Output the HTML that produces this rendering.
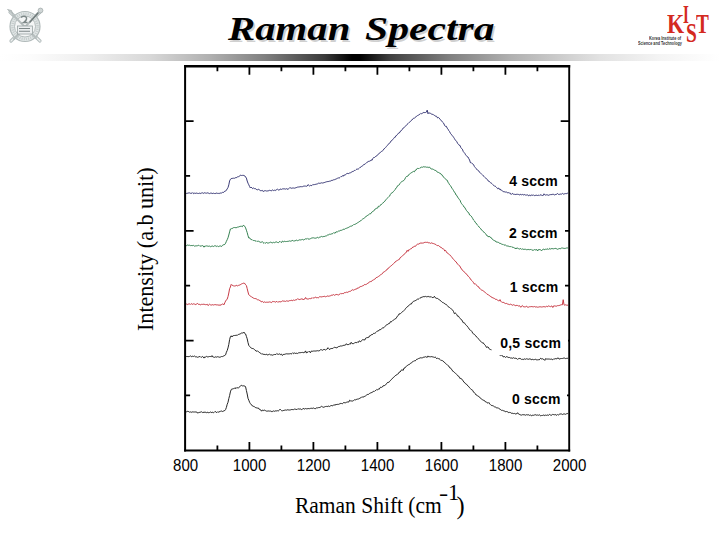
<!DOCTYPE html>
<html><head><meta charset="utf-8"><style>
html,body{margin:0;padding:0;background:#fff}
body{width:720px;height:540px;position:relative;overflow:hidden}
</style></head><body>
<svg width="60" height="60" viewBox="0 0 60 60" style="position:absolute;left:0;top:0">
<g stroke-linecap="round" fill="none">
<line x1="10" y1="12" x2="40" y2="41" stroke="#b3bcbc" stroke-width="3.2"/>
<line x1="40" y1="12" x2="11" y2="41" stroke="#b3bcbc" stroke-width="3.2"/>
<line x1="10" y1="12" x2="40" y2="41" stroke="#eef1f1" stroke-width="1.2"/>
<line x1="40" y1="12" x2="11" y2="41" stroke="#eef1f1" stroke-width="1.2"/>
</g>
<circle cx="25" cy="26.5" r="15" fill="#e4e9e9" stroke="#b0b9b9" stroke-width="1.2"/>
<circle cx="25" cy="26.5" r="12.6" fill="none" stroke="#c6cdcd" stroke-width="2.6" stroke-dasharray="1.2 1"/>
<circle cx="25" cy="26.5" r="10.5" fill="#f4f6f6" stroke="#a6afaf" stroke-width="0.8"/>
<line x1="13" y1="15" x2="36" y2="38" stroke="#b6bebe" stroke-width="2" stroke-linecap="round"/>
<line x1="38" y1="13" x2="14" y2="39" stroke="#b6bebe" stroke-width="2" stroke-linecap="round"/>
<line x1="38" y1="13" x2="30" y2="22" stroke="#6f7a7a" stroke-width="1.4" stroke-linecap="round"/>
<path d="M21 17.5 q3 -2.5 5.5 0 q0.5 3 -3 5 l4 0" stroke="#7d8888" stroke-width="1.4" fill="none"/>
<rect x="17.5" y="26" width="15" height="8" fill="#eceff0" stroke="#9aa4a4" stroke-width="0.8"/>
<path d="M19 28.5 h11 M19 31.3 h11" stroke="#7d8888" stroke-width="1.1"/>
<path d="M7.5 9.5 l4 1 l1 3.5 z" fill="#c4cbcb" stroke="#a3acac" stroke-width="0.7"/>
<circle cx="40.5" cy="10.5" r="2.4" fill="#d0d6d6" stroke="#a3acac" stroke-width="0.8"/>
</svg>
<div style="position:absolute;left:0;top:0;width:720px;height:60px;font-family:'Liberation Serif';font-weight:bold;font-style:italic;font-size:34px;line-height:40px;color:#000;text-shadow:1.5px 1.5px 0.3px #d0d0d0;white-space:nowrap">
<div style="position:absolute;left:228px;top:9px;transform:scaleX(1.2);transform-origin:0 0">Raman</div>
<div style="position:absolute;left:365px;top:9px;transform:scaleX(1.225);transform-origin:0 0">Spectra</div>
</div>
<div style="position:absolute;left:0;top:0;width:720px;height:60px;font-family:'Liberation Serif';font-weight:bold;color:#d42a1f;white-space:nowrap">
<div style="position:absolute;left:666.5px;top:9.5px;font-size:27.5px;line-height:27.5px;transform:scaleX(0.8);transform-origin:0 0">K</div>
<div style="position:absolute;left:683px;top:2px;font-size:25px;line-height:25px;transform:scaleX(0.6);transform-origin:0 0">I</div>
<div style="position:absolute;left:686px;top:19.5px;font-size:27px;line-height:27px;transform:scaleX(0.72);transform-origin:0 0">S</div>
<div style="position:absolute;left:696px;top:9.5px;font-size:27.5px;line-height:27.5px;transform:scaleX(0.7);transform-origin:0 0">T</div>
<div style="position:absolute;left:648.5px;top:36px;font-family:'Liberation Sans';font-weight:bold;color:#333;font-size:4.6px;line-height:5px;transform:scaleX(0.85);transform-origin:0 0">Korea Institute of</div>
<div style="position:absolute;left:638px;top:40.8px;font-family:'Liberation Sans';font-weight:bold;color:#333;font-size:4.6px;line-height:5px;transform:scaleX(0.82);transform-origin:0 0">Science and Technology</div>
</div>
<div style="position:absolute;left:0;top:54px;width:720px;height:7px;background:linear-gradient(90deg,#fff 0px,#fcfcfc 30px,#eeeeee 90px,#d8d8d8 150px,#b0b0b0 210px,#808080 265px,#3a3a3a 325px,#000 352px,#000 360px,#404040 390px,#808080 450px,#b0b0b0 510px,#d2d2d2 570px,#e2e2e2 600px,#f4f4f4 660px,#fff 720px)"></div>
<svg width="720" height="540" viewBox="0 0 720 540" style="position:absolute;left:0;top:0">
<g><polyline fill="none" stroke="#303070" stroke-width="0.95" stroke-linejoin="round" points="185.6,193.0 186.4,193.4 187.2,193.4 188.0,192.9 188.8,193.0 189.6,192.9 190.4,193.3 191.2,193.1 192.0,193.4 192.8,192.6 193.6,193.7 194.4,193.2 195.2,193.4 196.0,193.2 196.8,193.1 197.6,193.4 198.4,193.5 199.2,193.2 200.0,193.2 200.8,193.5 201.6,193.0 202.4,192.8 203.2,193.4 204.0,193.1 204.8,192.7 205.6,193.1 206.4,193.2 207.2,192.9 208.0,192.9 208.8,193.3 209.6,193.6 210.4,193.2 211.2,193.1 212.0,193.4 212.8,193.5 213.6,193.2 214.4,193.5 215.2,193.6 216.0,193.2 216.8,193.1 217.6,193.4 218.4,193.4 219.2,193.6 220.0,192.9 220.8,193.1 221.6,193.0 222.4,192.4 223.2,192.5 224.0,192.1 224.8,191.2 225.6,191.1 226.4,190.1 227.2,188.9 228.0,187.5 228.8,184.9 229.6,180.9 230.4,179.3 231.2,178.9 232.0,178.0 232.8,178.5 233.6,178.2 234.4,178.3 235.2,177.8 236.0,177.6 236.8,177.5 237.6,176.8 238.4,176.9 239.2,176.1 240.0,175.7 240.8,175.1 241.6,175.5 242.4,175.4 243.2,175.3 244.0,175.6 244.8,175.9 245.6,177.0 246.4,178.1 247.2,181.0 248.0,183.2 248.8,184.8 249.6,186.5 250.4,188.0 251.2,187.1 252.0,188.1 252.8,188.6 253.6,188.0 254.4,188.6 255.2,188.5 256.0,189.1 256.8,189.7 257.6,190.0 258.4,189.1 259.2,189.7 260.0,190.3 260.8,190.8 261.6,190.6 262.4,190.4 263.2,191.6 264.0,190.8 264.8,190.8 265.6,190.7 266.4,191.0 267.2,191.0 268.0,190.8 268.8,190.7 269.6,190.3 270.4,190.5 271.2,190.9 272.0,190.3 272.8,189.9 273.6,190.6 274.4,190.2 275.2,190.6 276.0,189.9 276.8,189.6 277.6,189.2 278.4,189.9 279.2,190.2 280.0,189.1 280.8,189.1 281.6,189.4 282.4,188.9 283.2,188.9 284.0,188.8 284.8,188.9 285.6,189.1 286.4,188.7 287.2,188.9 288.0,189.6 288.8,188.5 289.6,187.7 290.4,187.8 291.2,188.4 292.0,187.9 292.8,188.1 293.6,188.0 294.4,188.2 295.2,187.9 296.0,187.8 296.8,187.4 297.6,187.1 298.4,187.0 299.2,187.0 300.0,186.6 300.8,186.7 301.6,186.7 302.4,186.7 303.2,186.4 304.0,185.8 304.8,186.2 305.6,186.1 306.4,186.3 307.2,186.0 308.0,184.6 308.8,185.3 309.6,186.0 310.4,185.4 311.2,185.6 312.0,185.5 312.8,184.5 313.6,184.7 314.4,184.6 315.2,184.4 316.0,184.3 316.8,184.0 317.6,183.8 318.4,183.2 319.2,183.4 320.0,183.1 320.8,183.2 321.6,182.8 322.4,183.0 323.2,182.9 324.0,182.6 324.8,182.4 325.6,182.1 326.4,181.8 327.2,181.7 328.0,181.4 328.8,181.5 329.6,181.2 330.4,181.1 331.2,180.4 332.0,180.8 332.8,180.1 333.6,179.8 334.4,179.7 335.2,179.3 336.0,179.2 336.8,178.6 337.6,178.2 338.4,177.9 339.2,178.1 340.0,177.4 340.8,176.6 341.6,176.6 342.4,175.7 343.2,176.3 344.0,174.9 344.8,175.2 345.6,174.8 346.4,173.9 347.2,173.1 348.0,173.9 348.8,173.4 349.6,173.0 350.4,172.8 351.2,172.3 352.0,171.9 352.8,171.4 353.6,171.3 354.4,170.4 355.2,170.5 356.0,169.7 356.8,169.1 357.6,169.1 358.4,169.0 359.2,168.3 360.0,167.3 360.8,167.2 361.6,166.3 362.4,165.9 363.2,165.4 364.0,164.2 364.8,164.4 365.6,163.5 366.4,163.0 367.2,162.2 368.0,161.6 368.8,161.3 369.6,161.2 370.4,160.9 371.2,159.8 372.0,160.4 372.8,158.6 373.6,157.5 374.4,157.5 375.2,157.0 376.0,156.1 376.8,155.7 377.6,155.2 378.4,154.1 379.2,153.2 380.0,152.8 380.8,152.1 381.6,151.3 382.4,150.9 383.2,150.3 384.0,148.8 384.8,148.3 385.6,147.5 386.4,146.5 387.2,145.7 388.0,144.4 388.8,143.8 389.6,143.3 390.4,142.1 391.2,140.8 392.0,140.3 392.8,139.6 393.6,138.5 394.4,137.4 395.2,137.3 396.0,135.6 396.8,135.3 397.6,134.4 398.4,133.2 399.2,133.1 400.0,132.0 400.8,130.7 401.6,130.4 402.4,129.3 403.2,128.0 404.0,127.5 404.8,126.9 405.6,126.2 406.4,125.2 407.2,124.3 408.0,123.6 408.8,122.7 409.6,122.3 410.4,121.3 411.2,120.6 412.0,120.0 412.8,118.8 413.6,118.3 414.4,118.3 415.2,117.3 416.0,116.6 416.8,116.2 417.6,115.5 418.4,115.2 419.2,114.5 420.0,114.3 420.8,113.4 421.6,113.9 422.4,113.1 423.2,112.5 424.0,112.7 424.8,112.5 425.6,112.5 426.4,112.1 427.2,110.1 428.0,113.8 428.8,112.5 429.6,113.2 430.4,113.3 431.2,113.8 432.0,114.5 432.8,114.2 433.6,115.0 434.4,115.3 435.2,116.2 436.0,115.9 436.8,116.6 437.6,118.0 438.4,117.5 439.2,118.1 440.0,119.2 440.8,120.0 441.6,121.1 442.4,121.9 443.2,122.6 444.0,124.0 444.8,125.8 445.6,126.4 446.4,126.3 447.2,128.2 448.0,129.1 448.8,130.7 449.6,131.6 450.4,133.3 451.2,134.2 452.0,135.3 452.8,136.2 453.6,137.3 454.4,138.5 455.2,139.9 456.0,140.8 456.8,141.7 457.6,143.4 458.4,144.2 459.2,145.3 460.0,145.4 460.8,147.5 461.6,148.6 462.4,149.2 463.2,151.4 464.0,152.4 464.8,153.3 465.6,154.8 466.4,155.7 467.2,156.7 468.0,157.0 468.8,158.7 469.6,160.0 470.4,162.7 471.2,162.6 472.0,163.6 472.8,163.9 473.6,164.7 474.4,166.5 475.2,167.4 476.0,168.6 476.8,169.2 477.6,170.2 478.4,170.5 479.2,171.9 480.0,172.4 480.8,173.4 481.6,174.2 482.4,174.8 483.2,175.7 484.0,176.4 484.8,177.4 485.6,178.1 486.4,178.6 487.2,179.3 488.0,180.8 488.8,181.0 489.6,182.0 490.4,182.6 491.2,183.0 492.0,183.7 492.8,184.6 493.6,185.3 494.4,186.1 495.2,186.1 496.0,186.9 496.8,187.7 497.6,188.7 498.4,188.0 499.2,189.3 500.0,188.8 500.8,190.2 501.6,190.3 502.4,190.9 503.2,191.6 504.0,191.6 504.8,191.9 505.6,192.1 506.4,192.0 507.2,192.7 508.0,192.7 508.8,192.7 509.6,193.1 510.4,193.2 511.2,194.5 512.0,193.6 512.8,193.6 513.6,194.3 514.4,194.3 515.2,194.5 516.0,194.4 516.8,194.3 517.6,194.3 518.4,194.4 519.2,194.9 520.0,194.7 520.8,194.3 521.6,194.8 522.4,194.4 523.2,195.0 524.0,194.6 524.8,194.6 525.6,195.1 526.4,195.1 527.2,194.7 528.0,195.4 528.8,195.9 529.6,194.8 530.4,195.8 531.2,195.1 532.0,195.2 532.8,195.3 533.6,194.9 534.4,195.7 535.2,195.5 536.0,195.1 536.8,195.3 537.6,195.5 538.4,195.2 539.2,195.6 540.0,194.7 540.8,195.1 541.6,195.2 542.4,195.5 543.2,195.5 544.0,193.8 544.8,194.8 545.6,195.1 546.4,194.8 547.2,194.8 548.0,195.1 548.8,195.3 549.6,194.8 550.4,194.6 551.2,194.8 552.0,194.0 552.8,194.5 553.6,194.2 554.4,195.1 555.2,194.6 556.0,194.4 556.8,194.2 557.6,193.5 558.4,194.4 559.2,194.6 560.0,193.8 560.8,194.2 561.6,194.1 562.4,193.4 563.2,194.1 564.0,194.1 564.8,193.7 565.6,193.6 566.4,193.8 567.2,193.0 568.0,193.4"/><polyline fill="none" stroke="#2a7a48" stroke-width="0.95" stroke-linejoin="round" points="185.6,244.9 186.4,245.6 187.2,245.2 188.0,244.8 188.8,245.5 189.6,245.2 190.4,245.6 191.2,245.5 192.0,245.6 192.8,245.6 193.6,245.4 194.4,246.1 195.2,246.0 196.0,245.7 196.8,245.9 197.6,245.7 198.4,245.3 199.2,245.5 200.0,246.4 200.8,245.8 201.6,245.9 202.4,245.6 203.2,245.9 204.0,247.2 204.8,246.0 205.6,246.1 206.4,245.9 207.2,246.0 208.0,246.2 208.8,246.3 209.6,246.1 210.4,246.7 211.2,246.3 212.0,246.3 212.8,246.0 213.6,246.5 214.4,245.9 215.2,245.8 216.0,246.0 216.8,246.5 217.6,245.9 218.4,246.7 219.2,246.3 220.0,245.8 220.8,246.1 221.6,246.5 222.4,245.4 223.2,244.8 224.0,244.8 224.8,244.4 225.6,243.2 226.4,241.3 227.2,239.7 228.0,237.8 228.8,235.0 229.6,231.9 230.4,229.0 231.2,229.0 232.0,228.2 232.8,228.3 233.6,227.6 234.4,227.5 235.2,227.8 236.0,227.3 236.8,227.7 237.6,227.1 238.4,227.0 239.2,226.7 240.0,226.4 240.8,226.3 241.6,226.3 242.4,226.7 243.2,225.3 244.0,225.7 244.8,226.3 245.6,227.9 246.4,230.2 247.2,232.6 248.0,235.7 248.8,238.0 249.6,237.8 250.4,239.1 251.2,239.6 252.0,239.5 252.8,240.3 253.6,240.5 254.4,240.5 255.2,241.2 256.0,240.6 256.8,241.4 257.6,241.3 258.4,241.2 259.2,241.7 260.0,241.9 260.8,242.5 261.6,242.1 262.4,241.6 263.2,242.7 264.0,243.4 264.8,242.6 265.6,243.3 266.4,242.4 267.2,243.0 268.0,242.9 268.8,243.0 269.6,242.6 270.4,242.2 271.2,242.3 272.0,243.1 272.8,242.7 273.6,242.3 274.4,242.7 275.2,242.2 276.0,242.1 276.8,241.9 277.6,242.5 278.4,242.7 279.2,241.8 280.0,241.4 280.8,242.2 281.6,242.5 282.4,241.0 283.2,241.7 284.0,241.8 284.8,241.1 285.6,241.6 286.4,241.5 287.2,241.5 288.0,241.1 288.8,241.3 289.6,240.9 290.4,241.2 291.2,241.0 292.0,240.7 292.8,240.3 293.6,241.2 294.4,240.9 295.2,240.8 296.0,240.2 296.8,240.2 297.6,240.7 298.4,240.4 299.2,239.8 300.0,240.0 300.8,239.9 301.6,239.7 302.4,239.4 303.2,240.0 304.0,239.7 304.8,239.3 305.6,238.8 306.4,239.0 307.2,238.4 308.0,239.3 308.8,238.8 309.6,239.1 310.4,238.7 311.2,238.4 312.0,237.6 312.8,238.0 313.6,237.8 314.4,238.1 315.2,238.1 316.0,238.3 316.8,237.7 317.6,237.2 318.4,238.1 319.2,237.4 320.0,237.0 320.8,236.9 321.6,236.4 322.4,236.8 323.2,236.5 324.0,236.7 324.8,236.3 325.6,236.0 326.4,235.9 327.2,235.2 328.0,234.9 328.8,234.8 329.6,234.2 330.4,234.3 331.2,233.9 332.0,234.0 332.8,233.5 333.6,232.7 334.4,233.0 335.2,233.1 336.0,231.8 336.8,231.9 337.6,231.8 338.4,231.1 339.2,231.0 340.0,230.9 340.8,230.2 341.6,230.3 342.4,230.1 343.2,229.2 344.0,229.3 344.8,229.2 345.6,228.5 346.4,228.3 347.2,228.1 348.0,227.4 348.8,227.4 349.6,226.9 350.4,226.1 351.2,226.2 352.0,225.9 352.8,225.4 353.6,224.6 354.4,224.5 355.2,224.3 356.0,223.6 356.8,223.4 357.6,222.9 358.4,222.1 359.2,221.8 360.0,221.0 360.8,220.8 361.6,219.9 362.4,219.2 363.2,218.8 364.0,218.2 364.8,217.7 365.6,217.1 366.4,216.0 367.2,215.6 368.0,215.2 368.8,214.6 369.6,213.9 370.4,214.0 371.2,212.9 372.0,211.9 372.8,211.5 373.6,211.1 374.4,210.1 375.2,208.9 376.0,208.8 376.8,208.1 377.6,208.1 378.4,206.2 379.2,206.6 380.0,205.4 380.8,205.0 381.6,204.0 382.4,203.4 383.2,202.9 384.0,201.8 384.8,201.3 385.6,200.1 386.4,199.2 387.2,198.4 388.0,197.4 388.8,196.6 389.6,196.1 390.4,194.4 391.2,193.3 392.0,192.8 392.8,192.4 393.6,191.3 394.4,190.5 395.2,189.5 396.0,188.0 396.8,187.4 397.6,185.7 398.4,185.4 399.2,184.9 400.0,183.4 400.8,182.4 401.6,181.7 402.4,181.3 403.2,180.8 404.0,180.4 404.8,179.2 405.6,177.5 406.4,176.5 407.2,176.4 408.0,176.0 408.8,174.5 409.6,174.1 410.4,173.4 411.2,172.9 412.0,172.2 412.8,171.9 413.6,171.4 414.4,171.8 415.2,170.3 416.0,170.2 416.8,168.8 417.6,168.4 418.4,168.5 419.2,168.5 420.0,167.7 420.8,167.7 421.6,167.1 422.4,167.3 423.2,166.7 424.0,167.0 424.8,166.9 425.6,166.9 426.4,167.2 427.2,167.3 428.0,166.9 428.8,167.6 429.6,167.1 430.4,168.2 431.2,169.1 432.0,168.8 432.8,169.2 433.6,169.5 434.4,170.1 435.2,170.2 436.0,171.0 436.8,171.2 437.6,172.4 438.4,172.4 439.2,173.0 440.0,173.1 440.8,173.7 441.6,175.0 442.4,175.2 443.2,176.8 444.0,177.3 444.8,178.2 445.6,179.3 446.4,179.8 447.2,180.2 448.0,182.2 448.8,183.4 449.6,184.8 450.4,185.5 451.2,186.9 452.0,188.3 452.8,189.4 453.6,190.7 454.4,192.1 455.2,193.0 456.0,195.0 456.8,195.5 457.6,197.1 458.4,198.2 459.2,199.3 460.0,200.2 460.8,202.3 461.6,203.7 462.4,204.6 463.2,205.5 464.0,207.1 464.8,207.5 465.6,209.1 466.4,210.4 467.2,211.5 468.0,212.1 468.8,213.0 469.6,215.0 470.4,215.4 471.2,216.1 472.0,217.3 472.8,218.7 473.6,220.1 474.4,220.8 475.2,222.3 476.0,223.0 476.8,224.2 477.6,225.3 478.4,226.0 479.2,227.2 480.0,227.9 480.8,228.8 481.6,230.1 482.4,230.5 483.2,231.6 484.0,232.1 484.8,233.1 485.6,233.7 486.4,234.9 487.2,236.0 488.0,236.0 488.8,237.1 489.6,236.3 490.4,237.5 491.2,237.6 492.0,239.0 492.8,239.6 493.6,240.2 494.4,240.6 495.2,240.7 496.0,242.0 496.8,242.0 497.6,242.2 498.4,242.3 499.2,243.2 500.0,243.2 500.8,243.6 501.6,244.1 502.4,244.4 503.2,244.4 504.0,245.3 504.8,244.9 505.6,245.1 506.4,245.8 507.2,245.9 508.0,246.2 508.8,246.2 509.6,246.6 510.4,246.6 511.2,246.5 512.0,247.4 512.8,247.1 513.6,247.5 514.4,248.0 515.2,248.0 516.0,249.0 516.8,247.9 517.6,248.2 518.4,248.6 519.2,249.1 520.0,248.8 520.8,248.5 521.6,249.4 522.4,248.9 523.2,249.2 524.0,249.6 524.8,249.2 525.6,249.3 526.4,249.7 527.2,249.5 528.0,249.8 528.8,249.4 529.6,249.7 530.4,249.5 531.2,249.4 532.0,250.4 532.8,250.0 533.6,250.2 534.4,249.6 535.2,249.9 536.0,249.9 536.8,249.5 537.6,251.0 538.4,249.6 539.2,249.7 540.0,249.3 540.8,250.0 541.6,250.8 542.4,249.7 543.2,249.2 544.0,249.3 544.8,249.7 545.6,249.2 546.4,249.3 547.2,249.2 548.0,248.7 548.8,249.5 549.6,248.4 550.4,249.0 551.2,248.8 552.0,248.3 552.8,248.8 553.6,248.8 554.4,248.6 555.2,248.3 556.0,248.7 556.8,248.8 557.6,249.3 558.4,248.9 559.2,248.6 560.0,248.5 560.8,248.7 561.6,248.0 562.4,248.0 563.2,248.3 564.0,248.2 564.8,248.5 565.6,248.3 566.4,248.0 567.2,248.0 568.0,247.8"/><polyline fill="none" stroke="#c4303c" stroke-width="0.95" stroke-linejoin="round" points="185.6,304.0 186.4,304.0 187.2,304.7 188.0,303.9 188.8,304.1 189.6,303.9 190.4,304.4 191.2,303.6 192.0,304.2 192.8,304.3 193.6,303.8 194.4,304.0 195.2,304.6 196.0,304.2 196.8,304.0 197.6,303.4 198.4,304.4 199.2,304.3 200.0,304.5 200.8,304.9 201.6,304.3 202.4,304.4 203.2,304.2 204.0,304.4 204.8,304.4 205.6,304.7 206.4,304.6 207.2,304.2 208.0,305.6 208.8,304.9 209.6,304.2 210.4,304.8 211.2,305.1 212.0,304.8 212.8,304.7 213.6,305.0 214.4,304.7 215.2,304.7 216.0,304.6 216.8,305.0 217.6,304.9 218.4,305.2 219.2,304.6 220.0,305.7 220.8,304.5 221.6,304.6 222.4,304.0 223.2,304.2 224.0,304.8 224.8,302.7 225.6,301.1 226.4,299.9 227.2,299.1 228.0,296.6 228.8,293.0 229.6,288.7 230.4,287.0 231.2,284.4 232.0,285.3 232.8,285.4 233.6,285.9 234.4,286.0 235.2,285.9 236.0,285.7 236.8,285.3 237.6,285.9 238.4,285.4 239.2,285.2 240.0,284.9 240.8,284.4 241.6,283.9 242.4,283.6 243.2,283.1 244.0,283.4 244.8,283.4 245.6,284.8 246.4,285.5 247.2,288.7 248.0,292.0 248.8,294.8 249.6,295.5 250.4,296.1 251.2,296.4 252.0,297.5 252.8,297.5 253.6,298.2 254.4,298.5 255.2,298.5 256.0,298.8 256.8,299.1 257.6,299.8 258.4,299.8 259.2,300.2 260.0,300.8 260.8,301.0 261.6,302.0 262.4,301.4 263.2,302.3 264.0,302.4 264.8,301.7 265.6,302.4 266.4,302.2 267.2,302.4 268.0,301.8 268.8,302.3 269.6,301.9 270.4,302.1 271.2,302.6 272.0,302.1 272.8,301.4 273.6,301.6 274.4,301.6 275.2,302.3 276.0,301.7 276.8,301.4 277.6,302.2 278.4,301.9 279.2,301.8 280.0,301.4 280.8,302.0 281.6,301.5 282.4,300.9 283.2,301.1 284.0,301.1 284.8,301.2 285.6,301.4 286.4,300.9 287.2,300.8 288.0,301.6 288.8,300.9 289.6,300.6 290.4,300.6 291.2,300.2 292.0,300.6 292.8,300.6 293.6,300.0 294.4,300.4 295.2,299.9 296.0,300.0 296.8,299.6 297.6,298.7 298.4,299.2 299.2,299.6 300.0,299.3 300.8,299.2 301.6,298.9 302.4,298.8 303.2,300.0 304.0,299.1 304.8,299.0 305.6,297.5 306.4,298.8 307.2,299.2 308.0,298.6 308.8,299.1 309.6,298.5 310.4,298.7 311.2,298.0 312.0,298.5 312.8,297.7 313.6,298.0 314.4,297.8 315.2,297.2 316.0,297.3 316.8,297.9 317.6,297.6 318.4,297.8 319.2,297.3 320.0,296.3 320.8,297.2 321.6,296.8 322.4,296.7 323.2,296.6 324.0,296.4 324.8,296.3 325.6,296.8 326.4,296.5 327.2,296.0 328.0,296.0 328.8,296.3 329.6,296.0 330.4,295.8 331.2,295.2 332.0,295.4 332.8,295.0 333.6,294.6 334.4,295.3 335.2,294.8 336.0,294.7 336.8,294.4 337.6,294.7 338.4,295.0 339.2,294.3 340.0,294.3 340.8,293.4 341.6,293.7 342.4,293.5 343.2,293.7 344.0,293.0 344.8,292.5 345.6,292.6 346.4,292.2 347.2,292.5 348.0,292.0 348.8,291.7 349.6,291.4 350.4,291.3 351.2,290.6 352.0,290.2 352.8,289.6 353.6,290.2 354.4,289.7 355.2,289.4 356.0,288.9 356.8,289.0 357.6,287.9 358.4,288.2 359.2,287.2 360.0,287.0 360.8,286.4 361.6,286.4 362.4,285.9 363.2,285.7 364.0,285.0 364.8,284.4 365.6,284.6 366.4,284.3 367.2,283.7 368.0,283.1 368.8,282.8 369.6,281.7 370.4,281.6 371.2,281.6 372.0,280.9 372.8,280.0 373.6,280.0 374.4,279.2 375.2,278.9 376.0,277.7 376.8,277.4 377.6,277.1 378.4,276.5 379.2,276.0 380.0,275.3 380.8,274.6 381.6,274.2 382.4,273.7 383.2,272.3 384.0,272.0 384.8,271.4 385.6,270.8 386.4,270.4 387.2,269.0 388.0,268.9 388.8,267.5 389.6,267.1 390.4,266.4 391.2,265.8 392.0,265.0 392.8,264.3 393.6,263.6 394.4,263.0 395.2,261.8 396.0,261.2 396.8,260.8 397.6,260.3 398.4,259.8 399.2,259.6 400.0,258.0 400.8,257.1 401.6,256.6 402.4,256.1 403.2,255.2 404.0,254.2 404.8,253.7 405.6,253.1 406.4,252.0 407.2,250.3 408.0,251.4 408.8,249.7 409.6,249.7 410.4,249.0 411.2,248.8 412.0,248.0 412.8,247.0 413.6,247.1 414.4,246.1 415.2,246.3 416.0,245.8 416.8,244.8 417.6,243.9 418.4,244.2 419.2,243.5 420.0,243.8 420.8,242.6 421.6,243.2 422.4,243.1 423.2,243.0 424.0,242.8 424.8,242.3 425.6,242.3 426.4,242.4 427.2,242.3 428.0,242.3 428.8,243.0 429.6,242.8 430.4,243.4 431.2,242.8 432.0,243.2 432.8,243.4 433.6,243.6 434.4,243.9 435.2,244.3 436.0,244.5 436.8,245.5 437.6,245.6 438.4,245.5 439.2,246.0 440.0,246.9 440.8,247.4 441.6,247.6 442.4,248.7 443.2,248.6 444.0,249.6 444.8,251.0 445.6,250.4 446.4,251.9 447.2,253.0 448.0,253.5 448.8,254.1 449.6,254.8 450.4,255.3 451.2,256.4 452.0,257.7 452.8,258.3 453.6,259.4 454.4,260.3 455.2,261.3 456.0,261.7 456.8,263.0 457.6,264.0 458.4,264.9 459.2,265.7 460.0,266.2 460.8,268.0 461.6,269.0 462.4,270.3 463.2,270.7 464.0,271.9 464.8,272.5 465.6,273.1 466.4,274.3 467.2,274.7 468.0,276.1 468.8,276.9 469.6,277.5 470.4,279.1 471.2,280.0 472.0,280.7 472.8,281.7 473.6,282.8 474.4,284.1 475.2,283.6 476.0,284.5 476.8,285.7 477.6,286.3 478.4,286.5 479.2,288.1 480.0,288.4 480.8,289.5 481.6,290.1 482.4,290.2 483.2,291.0 484.0,291.4 484.8,292.0 485.6,292.8 486.4,293.6 487.2,294.4 488.0,294.3 488.8,295.4 489.6,295.7 490.4,296.2 491.2,297.1 492.0,297.1 492.8,298.1 493.6,298.1 494.4,298.4 495.2,299.3 496.0,299.1 496.8,299.6 497.6,300.2 498.4,300.7 499.2,300.9 500.0,299.6 500.8,301.3 501.6,302.1 502.4,302.4 503.2,302.2 504.0,302.9 504.8,303.1 505.6,303.6 506.4,303.3 507.2,304.1 508.0,303.8 508.8,304.5 509.6,304.6 510.4,304.2 511.2,304.5 512.0,304.9 512.8,305.3 513.6,304.7 514.4,305.1 515.2,305.6 516.0,305.7 516.8,305.3 517.6,305.5 518.4,306.0 519.2,305.7 520.0,306.1 520.8,307.3 521.6,306.2 522.4,305.5 523.2,306.7 524.0,306.8 524.8,306.9 525.6,306.8 526.4,306.1 527.2,307.0 528.0,307.4 528.8,307.0 529.6,306.7 530.4,306.7 531.2,306.7 532.0,306.3 532.8,306.9 533.6,306.8 534.4,306.5 535.2,307.0 536.0,306.9 536.8,306.9 537.6,307.2 538.4,307.1 539.2,306.8 540.0,306.9 540.8,306.8 541.6,307.0 542.4,306.9 543.2,306.8 544.0,306.4 544.8,306.9 545.6,306.9 546.4,306.3 547.2,306.7 548.0,306.4 548.8,305.8 549.6,306.4 550.4,306.7 551.2,306.1 552.0,306.1 552.8,307.5 553.6,305.9 554.4,305.9 555.2,306.0 556.0,306.2 556.8,306.1 557.6,305.6 558.4,305.6 559.2,305.5 560.0,305.2 560.8,304.9 561.6,304.7 562.4,304.8 563.2,299.7 564.0,304.8 564.8,305.2 565.6,304.8 566.4,305.1 567.2,305.2 568.0,305.2"/><polyline fill="none" stroke="#1a1a1a" stroke-width="0.95" stroke-linejoin="round" points="185.6,356.5 186.4,356.5 187.2,356.6 188.0,356.4 188.8,356.7 189.6,356.4 190.4,355.9 191.2,356.6 192.0,356.6 192.8,356.1 193.6,356.5 194.4,356.0 195.2,356.6 196.0,357.2 196.8,356.7 197.6,357.3 198.4,357.0 199.2,356.7 200.0,356.4 200.8,357.2 201.6,357.2 202.4,356.5 203.2,356.9 204.0,358.1 204.8,356.8 205.6,357.1 206.4,356.4 207.2,356.7 208.0,357.2 208.8,356.6 209.6,356.5 210.4,356.5 211.2,356.8 212.0,355.6 212.8,356.9 213.6,357.1 214.4,357.4 215.2,356.7 216.0,357.3 216.8,357.0 217.6,356.7 218.4,356.9 219.2,357.2 220.0,357.2 220.8,356.9 221.6,356.5 222.4,356.6 223.2,356.2 224.0,355.8 224.8,355.4 225.6,354.8 226.4,352.2 227.2,350.5 228.0,347.9 228.8,344.4 229.6,339.7 230.4,336.7 231.2,335.8 232.0,337.0 232.8,335.8 233.6,335.6 234.4,335.5 235.2,335.4 236.0,335.4 236.8,335.2 237.6,335.2 238.4,334.4 239.2,334.4 240.0,333.7 240.8,333.7 241.6,333.0 242.4,333.0 243.2,333.0 244.0,332.1 244.8,333.6 245.6,334.0 246.4,336.4 247.2,338.8 248.0,342.6 248.8,345.4 249.6,346.4 250.4,347.4 251.2,348.0 252.0,348.4 252.8,348.6 253.6,348.8 254.4,349.5 255.2,350.1 256.0,351.2 256.8,351.1 257.6,350.9 258.4,351.7 259.2,352.3 260.0,352.9 260.8,353.3 261.6,354.1 262.4,353.9 263.2,354.1 264.0,354.8 264.8,354.3 265.6,354.6 266.4,354.1 267.2,355.0 268.0,354.9 268.8,354.5 269.6,354.2 270.4,354.8 271.2,354.8 272.0,355.0 272.8,355.2 273.6,354.7 274.4,354.5 275.2,354.5 276.0,354.5 276.8,353.5 277.6,354.2 278.4,354.4 279.2,353.9 280.0,354.0 280.8,354.7 281.6,354.1 282.4,355.5 283.2,354.6 284.0,354.2 284.8,354.4 285.6,354.0 286.4,353.8 287.2,353.9 288.0,353.9 288.8,353.9 289.6,353.8 290.4,353.6 291.2,354.0 292.0,353.5 292.8,352.7 293.6,353.7 294.4,353.0 295.2,353.3 296.0,353.6 296.8,353.1 297.6,353.5 298.4,352.9 299.2,352.7 300.0,352.8 300.8,352.6 301.6,352.5 302.4,352.4 303.2,352.7 304.0,352.5 304.8,352.2 305.6,350.9 306.4,353.1 307.2,352.0 308.0,352.3 308.8,351.5 309.6,351.5 310.4,352.8 311.2,351.2 312.0,351.1 312.8,351.3 313.6,351.0 314.4,351.0 315.2,351.0 316.0,351.1 316.8,350.8 317.6,350.7 318.4,350.9 319.2,350.8 320.0,350.2 320.8,349.6 321.6,349.8 322.4,350.3 323.2,349.7 324.0,349.5 324.8,349.5 325.6,350.0 326.4,349.4 327.2,349.1 328.0,347.7 328.8,348.6 329.6,349.7 330.4,348.7 331.2,348.6 332.0,348.3 332.8,348.5 333.6,347.7 334.4,347.3 335.2,347.5 336.0,347.6 336.8,348.0 337.6,347.0 338.4,346.6 339.2,346.5 340.0,346.2 340.8,345.9 341.6,346.0 342.4,345.8 343.2,345.3 344.0,345.6 344.8,345.1 345.6,345.0 346.4,343.7 347.2,344.7 348.0,344.5 348.8,344.5 349.6,343.9 350.4,344.1 351.2,342.3 352.0,343.6 352.8,343.6 353.6,343.7 354.4,342.9 355.2,342.5 356.0,342.6 356.8,342.7 357.6,341.9 358.4,342.4 359.2,340.8 360.0,341.5 360.8,341.7 361.6,340.6 362.4,339.7 363.2,339.9 364.0,339.5 364.8,340.1 365.6,338.2 366.4,337.8 367.2,337.8 368.0,337.1 368.8,337.4 369.6,335.8 370.4,335.7 371.2,334.7 372.0,334.9 372.8,334.3 373.6,333.3 374.4,333.4 375.2,333.1 376.0,332.4 376.8,331.4 377.6,331.1 378.4,331.0 379.2,329.9 380.0,329.6 380.8,329.6 381.6,328.6 382.4,328.0 383.2,327.9 384.0,327.6 384.8,326.7 385.6,325.6 386.4,325.0 387.2,324.8 388.0,323.8 388.8,323.7 389.6,323.4 390.4,321.7 391.2,321.8 392.0,321.4 392.8,320.4 393.6,320.0 394.4,319.4 395.2,318.8 396.0,318.6 396.8,317.1 397.6,316.0 398.4,315.2 399.2,313.7 400.0,314.2 400.8,313.3 401.6,312.5 402.4,311.7 403.2,311.4 404.0,310.5 404.8,309.7 405.6,308.4 406.4,307.8 407.2,306.8 408.0,306.2 408.8,305.7 409.6,304.6 410.4,304.1 411.2,304.2 412.0,302.9 412.8,301.8 413.6,301.3 414.4,301.0 415.2,300.8 416.0,300.0 416.8,299.8 417.6,299.1 418.4,299.2 419.2,298.5 420.0,297.7 420.8,298.1 421.6,297.1 422.4,297.0 423.2,296.7 424.0,296.6 424.8,296.7 425.6,296.4 426.4,296.8 427.2,296.5 428.0,296.9 428.8,296.4 429.6,296.9 430.4,296.9 431.2,296.6 432.0,297.6 432.8,297.5 433.6,297.4 434.4,296.3 435.2,297.7 436.0,298.0 436.8,298.5 437.6,298.4 438.4,299.2 439.2,299.4 440.0,300.6 440.8,300.8 441.6,301.6 442.4,302.4 443.2,302.4 444.0,303.5 444.8,303.6 445.6,304.3 446.4,304.5 447.2,305.5 448.0,306.6 448.8,307.0 449.6,307.5 450.4,308.3 451.2,308.8 452.0,309.6 452.8,310.2 453.6,311.7 454.4,313.7 455.2,313.0 456.0,313.5 456.8,314.7 457.6,316.2 458.4,316.1 459.2,317.3 460.0,318.2 460.8,319.4 461.6,319.7 462.4,321.0 463.2,322.7 464.0,322.6 464.8,323.3 465.6,324.7 466.4,325.3 467.2,326.1 468.0,327.5 468.8,328.2 469.6,329.7 470.4,330.0 471.2,330.8 472.0,331.7 472.8,333.4 473.6,333.9 474.4,334.3 475.2,335.4 476.0,336.0 476.8,337.3 477.6,337.8 478.4,338.6 479.2,339.8 480.0,340.8 480.8,341.5 481.6,342.2 482.4,342.8 483.2,342.7 484.0,344.1 484.8,344.8 485.6,345.7 486.4,347.4 487.2,347.1 488.0,346.9 488.8,348.1 489.6,349.3 490.4,349.5 491.2,349.8 492.0,349.9 492.8,350.7 493.6,351.5 494.4,351.5 495.2,352.6 496.0,353.0 496.8,353.9 497.6,354.0 498.4,354.2 499.2,354.7 500.0,355.1 500.8,355.7 501.6,355.4 502.4,355.3 503.2,357.0 504.0,356.6 504.8,356.6 505.6,357.5 506.4,356.6 507.2,356.9 508.0,357.2 508.8,357.6 509.6,357.5 510.4,358.0 511.2,357.8 512.0,358.4 512.8,358.2 513.6,357.7 514.4,358.3 515.2,358.1 516.0,358.5 516.8,358.6 517.6,359.4 518.4,358.7 519.2,358.3 520.0,358.9 520.8,358.6 521.6,359.5 522.4,359.3 523.2,359.6 524.0,359.0 524.8,358.9 525.6,359.3 526.4,358.8 527.2,359.0 528.0,359.1 528.8,359.3 529.6,358.9 530.4,358.8 531.2,359.9 532.0,359.3 532.8,359.4 533.6,359.7 534.4,359.6 535.2,359.3 536.0,359.3 536.8,360.0 537.6,359.8 538.4,359.7 539.2,359.9 540.0,358.8 540.8,358.1 541.6,359.2 542.4,358.7 543.2,359.3 544.0,359.4 544.8,360.4 545.6,358.6 546.4,359.0 547.2,359.1 548.0,358.9 548.8,359.1 549.6,359.1 550.4,359.3 551.2,358.9 552.0,359.6 552.8,359.7 553.6,358.9 554.4,359.0 555.2,358.7 556.0,358.6 556.8,359.0 557.6,357.9 558.4,358.0 559.2,359.2 560.0,358.7 560.8,358.6 561.6,358.5 562.4,358.5 563.2,358.1 564.0,358.3 564.8,358.0 565.6,358.6 566.4,358.4 567.2,358.3 568.0,358.3"/><polyline fill="none" stroke="#1a1a1a" stroke-width="0.95" stroke-linejoin="round" points="185.6,411.4 186.4,411.8 187.2,411.4 188.0,411.3 188.8,411.7 189.6,412.2 190.4,411.9 191.2,412.4 192.0,411.9 192.8,411.9 193.6,412.0 194.4,412.0 195.2,411.9 196.0,412.1 196.8,412.0 197.6,413.1 198.4,412.7 199.2,412.5 200.0,412.2 200.8,412.1 201.6,411.8 202.4,412.5 203.2,412.1 204.0,412.9 204.8,411.8 205.6,412.4 206.4,412.7 207.2,412.1 208.0,412.9 208.8,412.6 209.6,412.5 210.4,412.0 211.2,412.5 212.0,412.5 212.8,412.2 213.6,412.7 214.4,412.2 215.2,411.4 216.0,412.2 216.8,412.6 217.6,411.8 218.4,412.2 219.2,411.7 220.0,411.8 220.8,410.9 221.6,411.1 222.4,411.5 223.2,411.3 224.0,410.6 224.8,410.6 225.6,409.5 226.4,407.4 227.2,404.3 228.0,402.3 228.8,398.6 229.6,395.6 230.4,391.9 231.2,389.6 232.0,388.8 232.8,389.0 233.6,388.6 234.4,388.0 235.2,388.8 236.0,387.5 236.8,388.3 237.6,387.6 238.4,387.9 239.2,387.2 240.0,386.7 240.8,385.5 241.6,385.4 242.4,385.9 243.2,385.6 244.0,386.3 244.8,385.9 245.6,386.9 246.4,390.5 247.2,394.0 248.0,398.3 248.8,400.2 249.6,402.3 250.4,403.6 251.2,404.7 252.0,405.1 252.8,406.3 253.6,406.4 254.4,406.7 255.2,407.3 256.0,408.0 256.8,407.8 257.6,408.1 258.4,408.0 259.2,409.3 260.0,409.3 260.8,410.0 261.6,411.2 262.4,410.0 263.2,410.6 264.0,410.1 264.8,410.2 265.6,410.7 266.4,411.1 267.2,411.2 268.0,410.9 268.8,411.0 269.6,411.1 270.4,411.0 271.2,411.6 272.0,411.2 272.8,411.5 273.6,410.9 274.4,411.3 275.2,411.0 276.0,410.7 276.8,411.0 277.6,410.7 278.4,410.9 279.2,410.3 280.0,409.2 280.8,410.0 281.6,410.7 282.4,410.8 283.2,410.6 284.0,410.3 284.8,410.2 285.6,410.0 286.4,410.2 287.2,409.9 288.0,409.6 288.8,410.1 289.6,410.0 290.4,409.9 291.2,409.6 292.0,409.5 292.8,409.6 293.6,409.6 294.4,409.1 295.2,409.3 296.0,409.1 296.8,409.7 297.6,408.9 298.4,408.9 299.2,409.0 300.0,409.2 300.8,408.9 301.6,409.6 302.4,409.3 303.2,408.3 304.0,409.0 304.8,409.0 305.6,408.5 306.4,408.8 307.2,408.8 308.0,408.5 308.8,408.6 309.6,408.7 310.4,408.4 311.2,408.4 312.0,408.0 312.8,408.5 313.6,408.0 314.4,408.5 315.2,408.7 316.0,408.4 316.8,407.7 317.6,407.9 318.4,407.6 319.2,407.7 320.0,407.2 320.8,407.0 321.6,406.3 322.4,406.8 323.2,407.3 324.0,407.1 324.8,406.8 325.6,406.5 326.4,406.4 327.2,406.6 328.0,406.2 328.8,406.1 329.6,406.5 330.4,405.9 331.2,405.6 332.0,405.5 332.8,405.8 333.6,405.1 334.4,404.9 335.2,405.3 336.0,404.1 336.8,405.0 337.6,404.2 338.4,404.4 339.2,403.9 340.0,404.0 340.8,403.3 341.6,403.5 342.4,403.7 343.2,403.2 344.0,402.2 344.8,403.1 345.6,402.7 346.4,402.3 347.2,402.1 348.0,401.8 348.8,402.1 349.6,400.2 350.4,400.8 351.2,400.8 352.0,401.3 352.8,400.9 353.6,400.5 354.4,399.8 355.2,399.9 356.0,399.8 356.8,399.2 357.6,399.1 358.4,399.0 359.2,398.6 360.0,398.2 360.8,397.8 361.6,397.0 362.4,397.0 363.2,397.0 364.0,396.9 364.8,396.0 365.6,395.9 366.4,395.2 367.2,394.5 368.0,394.6 368.8,394.2 369.6,393.4 370.4,393.0 371.2,392.8 372.0,392.2 372.8,392.1 373.6,391.2 374.4,391.4 375.2,390.6 376.0,390.4 376.8,389.4 377.6,389.8 378.4,389.1 379.2,389.3 380.0,387.7 380.8,387.2 381.6,387.4 382.4,387.0 383.2,385.7 384.0,385.8 384.8,385.4 385.6,384.9 386.4,383.9 387.2,382.8 388.0,382.0 388.8,382.5 389.6,381.3 390.4,380.7 391.2,379.6 392.0,378.9 392.8,378.2 393.6,377.2 394.4,376.7 395.2,375.7 396.0,375.2 396.8,374.9 397.6,373.9 398.4,373.7 399.2,372.1 400.0,372.1 400.8,371.0 401.6,369.8 402.4,370.0 403.2,370.4 404.0,368.1 404.8,368.1 405.6,366.8 406.4,366.3 407.2,365.6 408.0,365.2 408.8,364.5 409.6,364.4 410.4,363.3 411.2,363.0 412.0,362.3 412.8,361.8 413.6,361.0 414.4,360.8 415.2,360.8 416.0,360.2 416.8,359.2 417.6,359.1 418.4,358.6 419.2,358.3 420.0,358.1 420.8,357.7 421.6,357.9 422.4,357.8 423.2,357.4 424.0,357.0 424.8,357.1 425.6,356.7 426.4,357.1 427.2,357.4 428.0,355.9 428.8,356.8 429.6,356.7 430.4,356.8 431.2,356.7 432.0,356.5 432.8,357.0 433.6,357.1 434.4,357.4 435.2,357.0 436.0,357.7 436.8,358.8 437.6,358.0 438.4,358.6 439.2,358.7 440.0,359.4 440.8,360.4 441.6,360.4 442.4,360.6 443.2,361.1 444.0,362.2 444.8,362.5 445.6,363.6 446.4,364.0 447.2,364.8 448.0,365.7 448.8,366.1 449.6,367.7 450.4,367.8 451.2,369.0 452.0,369.9 452.8,371.3 453.6,371.5 454.4,372.5 455.2,372.9 456.0,373.8 456.8,374.6 457.6,375.7 458.4,375.9 459.2,377.1 460.0,378.6 460.8,378.3 461.6,378.8 462.4,380.0 463.2,380.9 464.0,382.3 464.8,382.7 465.6,383.8 466.4,384.1 467.2,385.1 468.0,386.1 468.8,386.6 469.6,387.8 470.4,388.5 471.2,389.5 472.0,389.8 472.8,390.5 473.6,392.3 474.4,392.7 475.2,393.4 476.0,395.0 476.8,395.2 477.6,395.8 478.4,396.1 479.2,397.1 480.0,397.7 480.8,398.2 481.6,399.3 482.4,399.7 483.2,400.2 484.0,400.3 484.8,400.9 485.6,402.0 486.4,402.2 487.2,402.5 488.0,403.3 488.8,402.5 489.6,404.0 490.4,404.5 491.2,405.3 492.0,405.6 492.8,405.7 493.6,406.1 494.4,406.8 495.2,406.8 496.0,407.6 496.8,407.9 497.6,407.9 498.4,407.9 499.2,408.8 500.0,409.3 500.8,409.7 501.6,410.4 502.4,410.3 503.2,410.6 504.0,411.0 504.8,411.0 505.6,411.9 506.4,411.5 507.2,411.7 508.0,412.0 508.8,412.7 509.6,412.4 510.4,412.5 511.2,413.1 512.0,413.5 512.8,413.2 513.6,413.6 514.4,413.4 515.2,414.1 516.0,413.5 516.8,413.9 517.6,412.7 518.4,413.9 519.2,414.3 520.0,414.6 520.8,415.0 521.6,415.1 522.4,414.7 523.2,414.8 524.0,414.6 524.8,414.9 525.6,415.2 526.4,414.7 527.2,414.9 528.0,414.9 528.8,414.8 529.6,415.4 530.4,415.0 531.2,415.7 532.0,415.6 532.8,415.1 533.6,415.3 534.4,415.0 535.2,414.6 536.0,415.1 536.8,415.2 537.6,415.0 538.4,415.3 539.2,414.7 540.0,415.3 540.8,415.9 541.6,415.5 542.4,415.5 543.2,415.1 544.0,415.1 544.8,415.6 545.6,415.1 546.4,415.4 547.2,414.9 548.0,415.3 548.8,415.2 549.6,414.4 550.4,415.0 551.2,415.2 552.0,415.1 552.8,414.3 553.6,414.6 554.4,414.8 555.2,414.5 556.0,414.9 556.8,415.3 557.6,414.5 558.4,415.0 559.2,414.4 560.0,413.9 560.8,414.0 561.6,414.0 562.4,414.5 563.2,414.1 564.0,413.9 564.8,414.0 565.6,414.3 566.4,413.8 567.2,413.5 568.0,413.7"/></g>
<g><line x1="185.1" y1="65.1" x2="185.1" y2="451.40000000000003" stroke="#000" stroke-width="2"/><line x1="184.1" y1="66.3" x2="570.2" y2="66.3" stroke="#000" stroke-width="2.4"/><line x1="569.2" y1="65.1" x2="569.2" y2="451.40000000000003" stroke="#000" stroke-width="1.9"/><line x1="184.1" y1="450.40000000000003" x2="570.2" y2="450.40000000000003" stroke="#000" stroke-width="2"/><path d="M217.4 66.3 v5 M217.4 450.40000000000003 v-5 M249.4 66.3 v8.5 M249.4 450.40000000000003 v-8.5 M281.4 66.3 v5 M281.4 450.40000000000003 v-5 M313.4 66.3 v8.5 M313.4 450.40000000000003 v-8.5 M345.4 66.3 v5 M345.4 450.40000000000003 v-5 M377.4 66.3 v8.5 M377.4 450.40000000000003 v-8.5 M409.4 66.3 v5 M409.4 450.40000000000003 v-5 M441.4 66.3 v8.5 M441.4 450.40000000000003 v-8.5 M473.4 66.3 v5 M473.4 450.40000000000003 v-5 M505.4 66.3 v8.5 M505.4 450.40000000000003 v-8.5 M537.4 66.3 v5 M537.4 450.40000000000003 v-5 M185.1 121.1 h8.5 M569.2 121.1 h-8.5 M185.1 175.9 h5 M569.2 175.9 h-5 M185.1 230.8 h8.5 M569.2 230.8 h-8.5 M185.1 285.7 h5 M569.2 285.7 h-5 M185.1 340.6 h8.5 M569.2 340.6 h-8.5 M185.1 395.4 h5 M569.2 395.4 h-5" stroke="#000" stroke-width="1.8" fill="none"/></g>
<g font-family="Liberation Sans" font-weight="bold" font-size="14" fill="#000" letter-spacing="0.2"><rect x="506" y="173" width="59" height="15.5" fill="#fff"/><rect x="506" y="225" width="59" height="15" fill="#fff"/><rect x="506" y="280" width="59" height="15" fill="#fff"/><rect x="491.5" y="336" width="76.5" height="19.19999999999999" fill="#fff"/><rect x="508" y="392" width="59" height="14.5" fill="#fff"/><text x="509.3" y="185.7">4&#160;sccm</text><text x="508.9" y="237.5">2&#160;sccm</text><text x="509.8" y="292.4">1&#160;sccm</text><text x="500.3" y="348.4">0,5&#160;sccm</text><text x="511.9" y="404.4">0&#160;sccm</text></g>
<g font-family="Liberation Sans" font-size="16" fill="#000" text-anchor="middle"><text x="185.6" y="470.8" transform="translate(185.6 0) scale(0.94 1) translate(-185.6 0)">800</text><text x="249.6" y="470.8" transform="translate(249.6 0) scale(0.94 1) translate(-249.6 0)">1000</text><text x="313.6" y="470.8" transform="translate(313.6 0) scale(0.94 1) translate(-313.6 0)">1200</text><text x="377.6" y="470.8" transform="translate(377.6 0) scale(0.94 1) translate(-377.6 0)">1400</text><text x="441.6" y="470.8" transform="translate(441.6 0) scale(0.94 1) translate(-441.6 0)">1600</text><text x="505.6" y="470.8" transform="translate(505.6 0) scale(0.94 1) translate(-505.6 0)">1800</text><text x="569.6" y="470.8" transform="translate(569.6 0) scale(0.94 1) translate(-569.6 0)">2000</text></g>
</svg>
<div style="position:absolute;left:295px;top:491px;font-family:'Liberation Serif';font-size:23px;line-height:30px;white-space:nowrap;transform:scaleX(0.934);transform-origin:0 0">Raman Shift (cm</div>
<div style="position:absolute;left:438.5px;top:479px;font-family:'Liberation Serif';font-size:22px;line-height:28px;white-space:nowrap;transform:scaleX(1.25);transform-origin:0 0">-</div>
<div style="position:absolute;left:448px;top:477.5px;font-family:'Liberation Serif';font-size:23.5px;line-height:28px;white-space:nowrap;transform:scaleX(0.95);transform-origin:0 0">1</div>
<div style="position:absolute;left:456.5px;top:490.5px;font-family:'Liberation Serif';font-size:24.5px;line-height:30px;white-space:nowrap">)</div>
<div style="position:absolute;left:0;top:0;font-family:'Liberation Serif';font-size:24px;line-height:30px;white-space:nowrap;transform-origin:0 0;transform:translate(130px,331px) rotate(-90deg) scaleX(0.92)">Intensity (a.b unit)</div>
</body></html>
